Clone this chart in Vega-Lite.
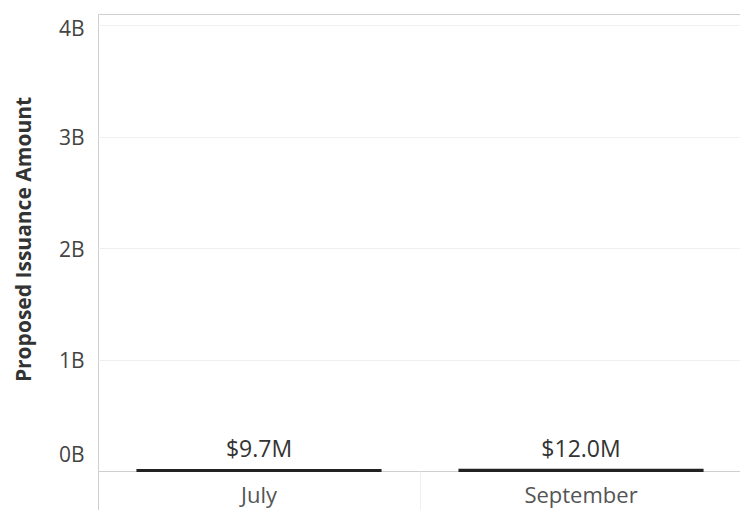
{
  "$schema": "https://vega.github.io/schema/vega-lite/v6.json",
  "autosize": "none",
  "padding": {"left": 98, "top": 14, "right": 0, "bottom": 39},
  "width": 644,
  "height": 457,
  "background": "white",
  "config": {
    "view": {"stroke": "#cfcfcf", "strokeWidth": 1},
    "font": "Open Sans"
  },
  "data": {
    "values": [
      {"month": "July", "amount": 9700000, "label": "$9.7M"},
      {"month": "September", "amount": 12000000, "label": "$12.0M"}
    ]
  },
  "encoding": {
    "x": {
      "field": "month",
      "type": "nominal",
      "sort": null,
      "scale": {"paddingInner": 0, "paddingOuter": 0},
      "axis": {
        "title": null,
        "domain": false,
        "bandPosition": 0,
        "ticks": true,
        "tickSize": 39,
        "tickColor": {"condition": {"test": "datum.value == 'July'", "value": "#cfcfcf"}, "value": "#efefef"},
        "labelPadding": -25,
        "labelAngle": 0,
        "labelFontSize": 22,
        "labelColor": "#555555",
        "labelFont": "Open Sans",
        "grid": false
      }
    },
    "y": {
      "field": "amount",
      "type": "quantitative",
      "scale": {"domain": [0, 4100000000], "nice": false},
      "axis": {
        "title": "Proposed Issuance Amount",
        "titleFont": "Open Sans",
        "titleFontSize": 21,
        "titleFontWeight": "bold",
        "titleColor": "#333333",
        "titleX": -74,
        "titleY": 225,
        "titleBaseline": "middle",
        "titleAlign": "center",
        "values": [0, 1000000000, 2000000000, 3000000000, 4000000000],
        "labelExpr": "datum.value / 1000000000 + 'B'",
        "labelFontSize": 21,
        "labelColor": "#444444",
        "labelFont": "Open Sans",
        "labelPadding": 14,
        "labelOffset": {"condition": [{"test": "datum.value == 0", "value": -16}, {"test": "datum.value == 4000000000", "value": 4}], "value": 2},
        "ticks": false,
        "domain": false,
        "grid": true,
        "gridColor": {"condition": {"test": "datum.value == 0", "value": "#cfcfcf"}, "value": "#f0f0f0"},
        "gridWidth": 1
      }
    }
  },
  "layer": [
    {
      "mark": {"type": "bar", "width": {"band": 0.755}, "color": "#222222", "stroke": "#222222", "strokeWidth": 2}
    },
    {
      "mark": {"type": "text", "baseline": "alphabetic", "dy": -13, "fontSize": 23, "color": "#333333", "font": "Open Sans"},
      "encoding": {"text": {"field": "label"}}
    }
  ]
}
